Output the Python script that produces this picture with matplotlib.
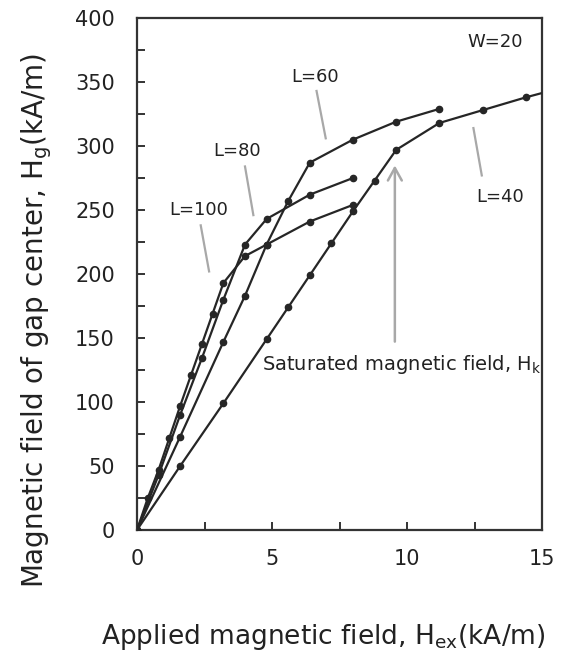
import matplotlib
matplotlib.use("Agg")
import matplotlib.pyplot as plt
from matplotlib.ticker import MultipleLocator

plt.rcParams["font.family"] = ["DejaVu Sans"]
plt.rcParams["mathtext.default"] = "regular"

# H_ex (kA/m) vs H_g (kA/m), W=20
l40_x = [0, 1.6, 3.2, 4.8, 5.6, 6.4, 7.2, 8.0, 8.8, 9.6, 11.2, 12.8, 14.4, 16.0]
l40_y = [0, 50, 99, 149, 174, 199, 224, 249, 273, 297, 318, 328, 338, 347]

l60_x = [0, 1.6, 3.2, 4.0, 4.8, 5.6, 6.4, 8.0, 9.6, 11.2]
l60_y = [0, 73, 147, 183, 223, 257, 287, 305, 319, 329]

l80_x = [0, 0.8, 1.6, 2.4, 3.2, 4.0, 4.8, 6.4, 8.0]
l80_y = [0, 43, 90, 134, 180, 223, 243, 262, 275]

l100_x = [0, 0.4, 0.8, 1.2, 1.6, 2.0, 2.4, 2.8, 3.2, 4.0, 4.8, 6.4, 8.0]
l100_y = [0, 25, 47, 72, 97, 121, 145, 169, 193, 214, 223, 241, 254]

LINE = "#262626"
GREY = "#a8a8a8"
TEXT = "#222222"

fig = plt.figure(figsize=(5.63, 6.56), dpi=100)
ax = fig.add_axes([137 / 563, 1 - 530 / 656, 405 / 563, 512 / 656])

for xs, ys in [(l40_x, l40_y), (l60_x, l60_y), (l80_x, l80_y), (l100_x, l100_y)]:
    ax.plot(xs, ys, color=LINE, linewidth=1.6, marker="o", markersize=4.5, zorder=3)

ax.set_xlim(0, 15)
ax.set_ylim(0, 400)
ax.xaxis.set_major_locator(MultipleLocator(5))
ax.xaxis.set_minor_locator(MultipleLocator(2.5))
ax.yaxis.set_major_locator(MultipleLocator(50))
ax.yaxis.set_minor_locator(MultipleLocator(25))
ax.tick_params(which="both", direction="in", length=6, width=1.4, color="#333333",
               labelsize=15, labelcolor=TEXT)
ax.tick_params(axis="x", pad=14)
ax.tick_params(axis="y", pad=16)
for side in ax.spines.values():
    side.set_linewidth(1.6)
    side.set_color("#333333")

ax.set_xlabel("Applied magnetic field, H$_{ex}$(kA/m)", fontsize=19, color=TEXT)
ax.set_ylabel("Magnetic field of gap center, H$_{g}$(kA/m)", fontsize=20, color=TEXT)
ax.xaxis.set_label_coords(0.459, -0.18)
ax.yaxis.set_label_coords(-0.205, 0.41)

# curve labels with pointer lines
txt = dict(fontsize=13, color=TEXT, ha="center", va="center")
ax.text(6.6, 354, "L=60", **txt)
ax.plot([6.65, 6.99], [343, 306], color=GREY, linewidth=1.6, zorder=2)
ax.text(3.69, 296, "L=80", **txt)
ax.plot([4.0, 4.31], [284, 246], color=GREY, linewidth=1.6, zorder=2)
ax.text(2.28, 250, "L=100", **txt)
ax.plot([2.36, 2.67], [238, 202], color=GREY, linewidth=1.6, zorder=2)
ax.text(13.44, 260, "L=40", **txt)
ax.plot([12.46, 12.77], [314, 277], color=GREY, linewidth=1.6, zorder=2)
ax.text(13.26, 381, "W=20", **txt)

ax.annotate("", xy=(9.55, 287), xytext=(9.55, 145),
            arrowprops=dict(arrowstyle="->,head_length=0.9,head_width=0.5",
                            color=GREY, linewidth=1.8))
ax.text(4.63, 129, "Saturated magnetic field, H$_{k}$", fontsize=14,
        color=TEXT, ha="left", va="center")

fig.savefig("out.png", dpi=100)
